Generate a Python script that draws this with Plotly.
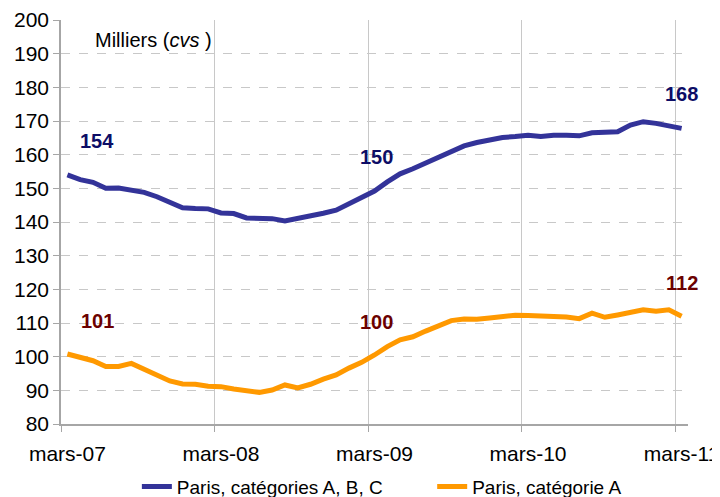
import plotly.graph_objects as go

months = list(range(49))  # monthly index, mars-07 .. mars-11
tick_idx = [0, 12, 24, 36, 48]
tick_labels = ["mars-07", "mars-08", "mars-09", "mars-10", "mars-11"]

abc = [154.0, 152.6, 151.8, 150.0, 150.1, 149.6, 148.8, 147.5, 146.0, 144.2,
       144.0, 143.9, 142.7, 142.5, 141.2, 141.1, 141.0, 140.3, 141.0, 141.7,
       142.6, 143.5, 145.5, 147.2, 149.2, 151.9, 154.3, 155.8, 157.6, 159.0,
       161.0, 162.6, 163.6, 164.5, 165.1, 165.4, 165.8, 165.4, 165.8, 165.8,
       165.6, 166.5, 166.8, 166.8, 168.8, 169.8, 169.3, 168.6, 167.8]

cat_a = [100.8, 99.9, 98.8, 97.1, 97.1, 98.0, 96.2, 94.3, 92.8, 91.9,
         91.8, 91.2, 91.1, 90.4, 89.9, 89.4, 90.1, 91.6, 90.7, 91.8,
         93.3, 94.6, 96.6, 98.3, 100.5, 103.0, 105.0, 105.9, 107.6, 109.3,
         110.7, 111.2, 111.1, 111.5, 111.9, 112.3, 112.2, 111.9, 111.9, 111.8,
         111.3, 112.9, 111.7, 112.4, 113.3, 113.9, 113.5, 113.9, 112.0]

label_idx = [0, 24, 48]
abc_labels = ["154", "150", "168"]
a_labels = ["101", "100", "112"]

BLUE = "#333399"
ORANGE = "#FF9900"
NAVY = "#0D0D66"
DARKRED = "#6B0000"
FONT = "Arial, Liberation Sans"

fig = go.Figure()
fig.add_trace(go.Scatter(x=months, y=abc, mode="lines", name="Paris, catégories A, B, C",
                         line=dict(color=BLUE, width=5), legend="legend"))
fig.add_trace(go.Scatter(x=months, y=cat_a, mode="lines", name="Paris, catégorie A",
                         line=dict(color=ORANGE, width=5), legend="legend2"))

xshifts = [30, 2, 0]
for k, i in enumerate(label_idx):
    fig.add_annotation(x=i, y=abc[i], text=abc_labels[k], showarrow=False,
                       xshift=xshifts[k], yshift=34,
                       font=dict(family=FONT, size=20, color=NAVY, weight="bold"))
    fig.add_annotation(x=i, y=cat_a[i], text=a_labels[k], showarrow=False,
                       xshift=xshifts[k], yshift=33,
                       font=dict(family=FONT, size=20, color=DARKRED, weight="bold"))

fig.add_annotation(xref="paper", yref="paper", x=0.051, y=0.95, xanchor="left", yanchor="middle",
                   text="Milliers (<i>cvs</i> )", showarrow=False,
                   font=dict(family=FONT, size=20, color="#000000"))

legend_style = dict(orientation="h", xanchor="left", y=-0.108, yanchor="top",
                    font=dict(size=19), bgcolor="rgba(0,0,0,0)")

# page body has an 8px margin, so the figure is offset to place the plot area where the reference has it
fig.update_layout(
    width=728, height=505,
    margin=dict(l=53, r=48, t=12, b=89, autoexpand=False),
    paper_bgcolor="white", plot_bgcolor="white",
    font=dict(family=FONT, size=21, color="#000000"),
    showlegend=True,
    legend=dict(x=0.121, **legend_style),
    legend2=dict(x=0.592, **legend_style),
    xaxis=dict(range=[-0.5, 48.5], tickmode="array", tickvals=tick_idx, ticktext=tick_labels,
               showgrid=False, zeroline=False, showline=True, linecolor="#A6A6A6", linewidth=1.5,
               ticks="", ticklabelstandoff=10,
               minor=dict(tick0=-0.5, dtick=12, showgrid=True, gridcolor="#C8C8C8", gridwidth=1,
                          ticks="outside", ticklen=6, tickcolor="#A6A6A6")),
    yaxis=dict(range=[80, 200], dtick=10, showgrid=True, gridcolor="#C8C8C8", griddash="dash",
               gridwidth=1, zeroline=False, showline=True, linecolor="#A6A6A6", linewidth=1.5,
               ticks="outside", ticklen=6, tickcolor="#A6A6A6"),
)

fig.write_html("out.html")
